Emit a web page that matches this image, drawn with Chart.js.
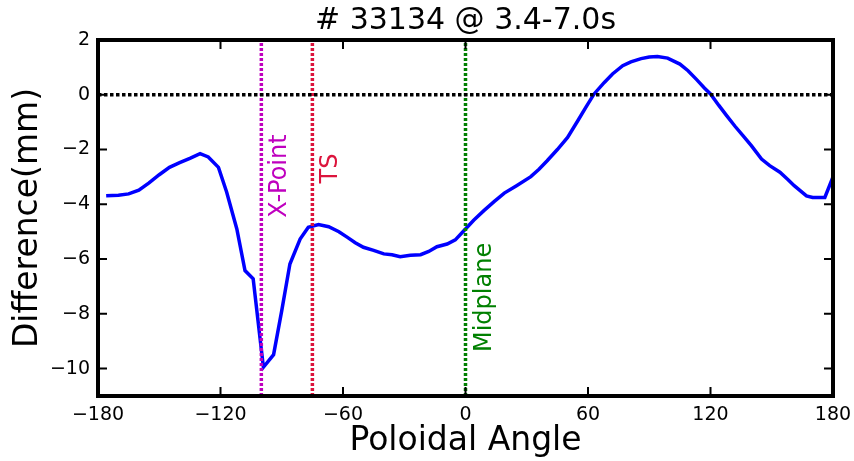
<!DOCTYPE html>
<html lang="en">
<head>
<meta charset="UTF-8">
<title>Difference vs Poloidal Angle</title>
<script src="https://cdn.jsdelivr.net/npm/chart.js@4.4.0/dist/chart.umd.min.js"></script>
<style>
    html, body { margin: 0; padding: 0; background: #fff; }
    canvas { display: block; }
</style>
</head>
<body>
<canvas id="diffChart" width="854" height="461"></canvas>
<script>
    // values
    const angles = [-176, -170, -165, -160, -155, -150, -145, -140, -135, -130, -126, -121, -117, -112, -108, -104,
                    -99, -94, -90, -86, -81, -77, -72, -67, -62, -58, -54, -50, -45, -40, -36, -32, -27, -22, -18, -14,
                    -9, -5, 0, 4, 9, 14, 19, 25, 32, 36, 40, 45, 50, 55, 59, 63, 68, 72, 77, 81, 86, 90, 94, 99, 105,
                    109, 113, 117, 120, 124, 128, 132, 136, 140, 145, 149, 154, 158, 161, 167, 170, 176, 180];
    const diffs = [-3.69, -3.67, -3.62, -3.48, -3.22, -2.92, -2.65, -2.48, -2.32, -2.15, -2.27, -2.65, -3.55, -4.9, -6.42, -6.72,
                   -9.95, -9.49, -7.88, -6.18, -5.27, -4.84, -4.74, -4.82, -5.0, -5.2, -5.4, -5.57, -5.68, -5.81, -5.84, -5.91, -5.86, -5.84, -5.72, -5.55,
                   -5.45, -5.3, -4.9, -4.58, -4.23, -3.9, -3.59, -3.32, -2.99, -2.72, -2.41, -2.0, -1.56, -0.95, -0.45, 0.03, 0.45, 0.76, 1.06, 1.2, 1.32, 1.38, 1.4, 1.34, 1.12,
                   0.88, 0.57, 0.25, 0.03, -0.38, -0.77, -1.15, -1.5, -1.86, -2.35, -2.59, -2.83, -3.1, -3.32, -3.69, -3.75, -3.75, -3.0];

    const xTickVals = [-180, -120, -60, 0, 60, 120, 180];
    const yTickVals = [-10, -8, -6, -4, -2, 0, 2];

    const markerNames = ['X-Point', 'TS', 'Midplane'];
    const markerAngles = [-100, -75, 0];
    const markerColors = ['#bf00bf', '#dc143c', '#008000'];
    const markerLabelY = [-2.97, -2.69, -7.4];

    const FONT = '"DejaVu Sans", sans-serif';
    Chart.defaults.color = '#000';
    Chart.defaults.font.family = FONT;

    const curve = angles.map((a, i) => ({x: a, y: diffs[i]}));

    let datasets = [];
    // zero line
    datasets.push({
        data: [{x: -180, y: 0}, {x: 180, y: 0}],
        borderColor: '#000',
        borderWidth: 3.5,
        borderDash: [3.5, 2.5],
        pointRadius: 0
    });
    markerAngles.forEach((a, i) => {
        datasets.push({
            data: [{x: a, y: -11}, {x: a, y: 2}],
            borderColor: markerColors[i],
            borderWidth: 3.5,
            borderDash: [3, 2],
            pointRadius: 0
        });
    });
    datasets.push({
        data: curve,
        borderColor: '#0000ff',
        borderWidth: 3.5,
        pointRadius: 0,
        tension: 0
    });

    const minusFmt = v => String(v).replace('-', '\u2212');

    // frame, inward ticks and the marker labels
    const framePlugin = {
        id: 'frame',
        afterDatasetsDraw(chart) {
            const ctx = chart.ctx;
            const a = chart.chartArea;
            const x = chart.scales.x, y = chart.scales.y;
            ctx.save();
            ctx.font = '24px ' + FONT;
            ctx.textAlign = 'center';
            ctx.textBaseline = 'alphabetic';
            markerNames.forEach((name, i) => {
                ctx.save();
                ctx.translate(x.getPixelForValue(markerAngles[i]) + 25, y.getPixelForValue(markerLabelY[i]));
                ctx.rotate(-Math.PI / 2);
                ctx.fillStyle = markerColors[i];
                ctx.fillText(name, 0, 0);
                ctx.restore();
            });

            ctx.strokeStyle = '#000';
            ctx.lineWidth = 2;
            ctx.beginPath();
            xTickVals.forEach(v => {
                const px = x.getPixelForValue(v);
                ctx.moveTo(px, a.bottom); ctx.lineTo(px, a.bottom - 9);
                ctx.moveTo(px, a.top); ctx.lineTo(px, a.top + 9);
            });
            yTickVals.forEach(v => {
                const py = y.getPixelForValue(v);
                ctx.moveTo(a.left, py); ctx.lineTo(a.left + 9, py);
                ctx.moveTo(a.right, py); ctx.lineTo(a.right - 9, py);
            });
            ctx.stroke();
            ctx.lineWidth = 4;
            ctx.strokeRect(a.left, a.top, a.right - a.left, a.bottom - a.top);
            ctx.restore();
        }
    };

    new Chart(document.getElementById('diffChart'), {
        type: 'line',
        data: {datasets: datasets},
        options: {
            responsive: false,
            animation: false,
            layout: {padding: {left: 0, right: 21, top: 0, bottom: 0}},
            plugins: {
                legend: {display: false},
                tooltip: {enabled: false},
                title: {
                    display: true,
                    text: '# 33134 @ 3.4-7.0s',
                    fullSize: false,
                    font: {size: 30, weight: 'normal'},
                    padding: {top: 3, bottom: 1}
                }
            },
            scales: {
                x: {
                    type: 'linear',
                    min: -180,
                    max: 180,
                    afterBuildTicks: s => { s.ticks = xTickVals.map(v => ({value: v})); },
                    afterFit: s => { s.height = 65; s.paddingLeft = 0; s.paddingRight = 0; },
                    grid: {display: false, drawTicks: false},
                    border: {display: false},
                    ticks: {font: {size: 19}, padding: 8, maxRotation: 0, autoSkip: false, callback: minusFmt},
                    title: {display: true, text: 'Poloidal Angle', font: {size: 33}, padding: {top: 0, bottom: 0}}
                },
                y: {
                    min: -11,
                    max: 2,
                    afterBuildTicks: s => { s.ticks = yTickVals.map(v => ({value: v})); },
                    afterFit: s => { s.width = 98; s.paddingTop = 0; s.paddingBottom = 0; },
                    grid: {display: false, drawTicks: false},
                    border: {display: false},
                    ticks: {font: {size: 19}, padding: 8, autoSkip: false, callback: minusFmt},
                    title: {display: true, text: 'Difference(mm)', font: {size: 33}, padding: {top: 9, bottom: 0}}
                }
            }
        },
        plugins: [framePlugin]
    });
</script>
</body>
</html>
